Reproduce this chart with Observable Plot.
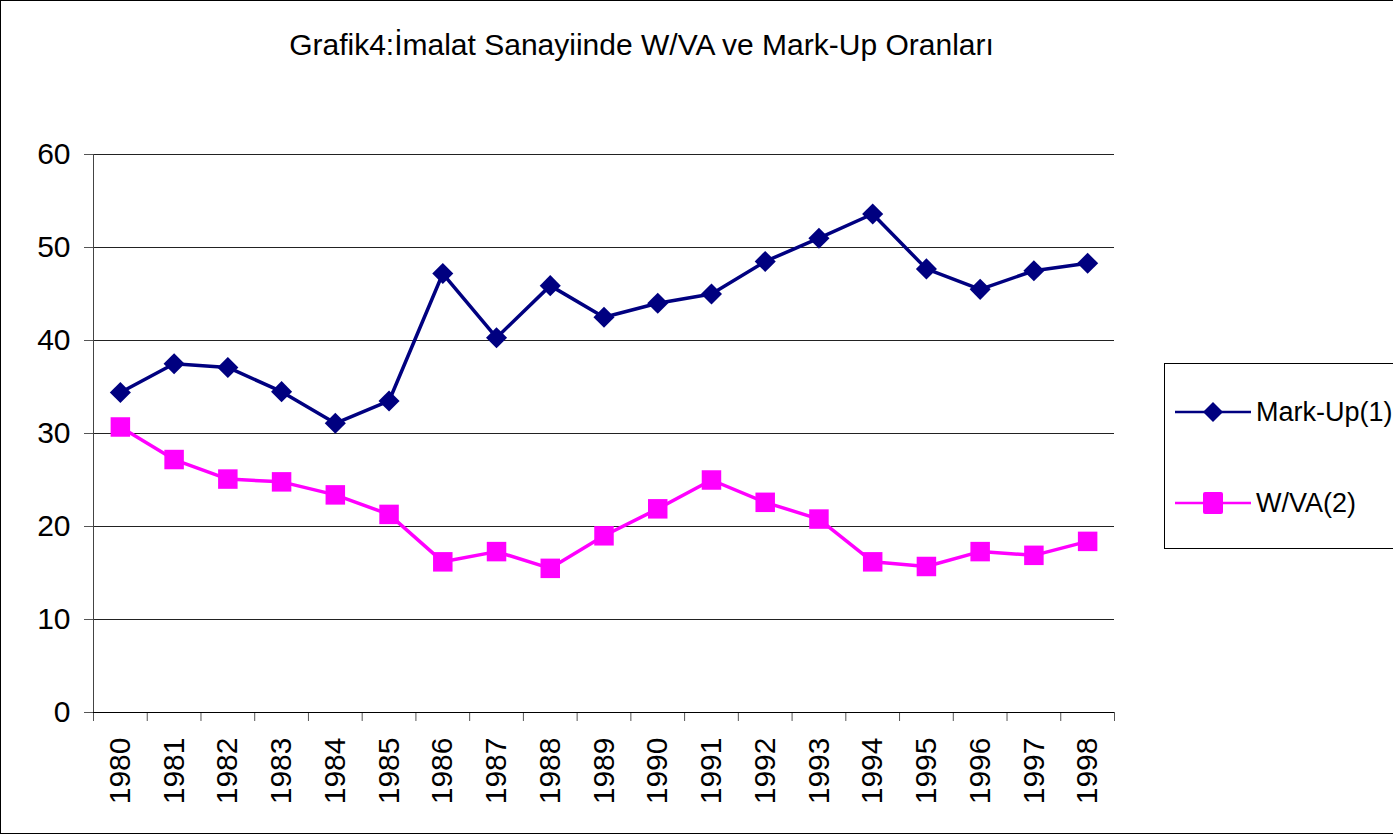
<!DOCTYPE html>
<html>
<head>
<meta charset="utf-8">
<script src="https://cdn.jsdelivr.net/npm/d3@7"></script>
<script src="https://cdn.jsdelivr.net/npm/@observablehq/plot@0.6"></script>
<style>
  html, body { margin: 0; padding: 0; background: #fff; }
  body { font-family: "Liberation Sans", Arial, sans-serif; }
  #wrap { position: relative; width: 1393px; height: 835px; overflow: hidden; background: #fff; }
  #frame { position: absolute; left: 0; top: 0; width: 1420px; height: 834px; border: 1.5px solid #000; box-sizing: border-box; }
  #title { position: absolute; left: 0; width: 1283px; top: 28px; text-align: center; font-size: 30px; color: #000; white-space: nowrap; }
  #chart { position: absolute; left: 0; top: 0; }
  #legend { position: absolute; left: 1164px; top: 363px; width: 260px; height: 186px; border: 1px solid #000; box-sizing: border-box; background: #fff; }
  .item { position: absolute; left: 9px; height: 30px; display: flex; align-items: center; }
  .item span { font-size: 27px; color: #000; margin-left: 4px; white-space: nowrap; }
</style>
</head>
<body>
<div id="wrap">
  <div id="chart"></div>
  <div id="frame"></div>
  <div id="title">Grafik4:İmalat Sanayiinde W/VA ve Mark-Up Oranları</div>
  <div id="legend"></div>
</div>
<script>
const years = [1980,1981,1982,1983,1984,1985,1986,1987,1988,1989,1990,1991,1992,1993,1994,1995,1996,1997,1998];
const markUp = [34.4,37.5,37.1,34.5,31.1,33.5,47.2,40.3,45.9,42.5,44.0,45.0,48.5,51.0,53.6,47.7,45.5,47.5,48.3];
const wva = [30.7,27.2,25.1,24.8,23.4,21.3,16.2,17.3,15.5,19.0,21.9,25.0,22.6,20.8,16.2,15.7,17.3,16.9,18.4];
const yTicks = [0,10,20,30,40,50,60];
const seriesNames = ["Mark-Up(1)", "W/VA(2)"];
const seriesColors = ["#000080", "#FF00FF"];

const boundaries = years.map(y => y - 0.5).concat([years[years.length - 1] + 0.5]);
const dataMU = years.map((y, i) => ({year: y, value: markUp[i]}));
const dataW = years.map((y, i) => ({year: y, value: wva[i]}));

const chart = Plot.plot({
  width: 1393,
  height: 835,
  marginLeft: 93,
  marginRight: 279,
  marginTop: 154,
  marginBottom: 123,
  style: {fontFamily: "'Liberation Sans', Arial, sans-serif", fontSize: "30px", color: "#000", background: "transparent", overflow: "visible"},
  x: {type: "linear", domain: [boundaries[0], boundaries[boundaries.length - 1]]},
  y: {domain: [0, 60]},
  marks: [
    Plot.ruleY(yTicks.filter(d => d > 0), {stroke: "#222", strokeWidth: 1}),
    Plot.axisY({ticks: yTicks, tickSize: 9, tickPadding: 14, label: null, fontSize: 30, stroke: "#555"}),
    Plot.axisX({ticks: boundaries, tickSize: 9, tickFormat: () => "", label: null, stroke: "#555"}),
    Plot.axisX({ticks: years, tickSize: 0, tickPadding: 25, tickRotate: -90, tickFormat: d => String(d), label: null, fontSize: 30}),
    Plot.ruleX([boundaries[0]], {stroke: "#444"}),
    Plot.ruleY([0], {stroke: "#000"}),
    Plot.line(dataMU, {x: "year", y: "value", stroke: seriesColors[0], strokeWidth: 3.5}),
    Plot.dot(dataMU, {x: "year", y: "value", symbol: "diamond2", r: 9.5, fill: seriesColors[0], stroke: null}),
    Plot.line(dataW, {x: "year", y: "value", stroke: seriesColors[1], strokeWidth: 3.5}),
    Plot.dot(dataW, {x: "year", y: "value", symbol: "square", r: 11, fill: seriesColors[1], stroke: null})
  ]
});
document.getElementById("chart").appendChild(chart);

// Legend
const legend = document.getElementById("legend");
const tops = [33, 124];
seriesNames.forEach((name, i) => {
  const item = document.createElement("div");
  item.className = "item";
  item.style.top = tops[i] + "px";
  const marker = i === 0
    ? `<path d="M39,5 L49,15 L39,25 L29,15 Z" fill="${seriesColors[i]}"/>`
    : `<rect x="29" y="4" width="20" height="22" rx="2" fill="${seriesColors[i]}"/>`;
  item.innerHTML = `<svg width="78" height="30"><line x1="1" x2="77" y1="15" y2="15" stroke="${seriesColors[i]}" stroke-width="2.5"/>${marker}</svg><span>${name}</span>`;
  legend.appendChild(item);
});
</script>
</body>
</html>
